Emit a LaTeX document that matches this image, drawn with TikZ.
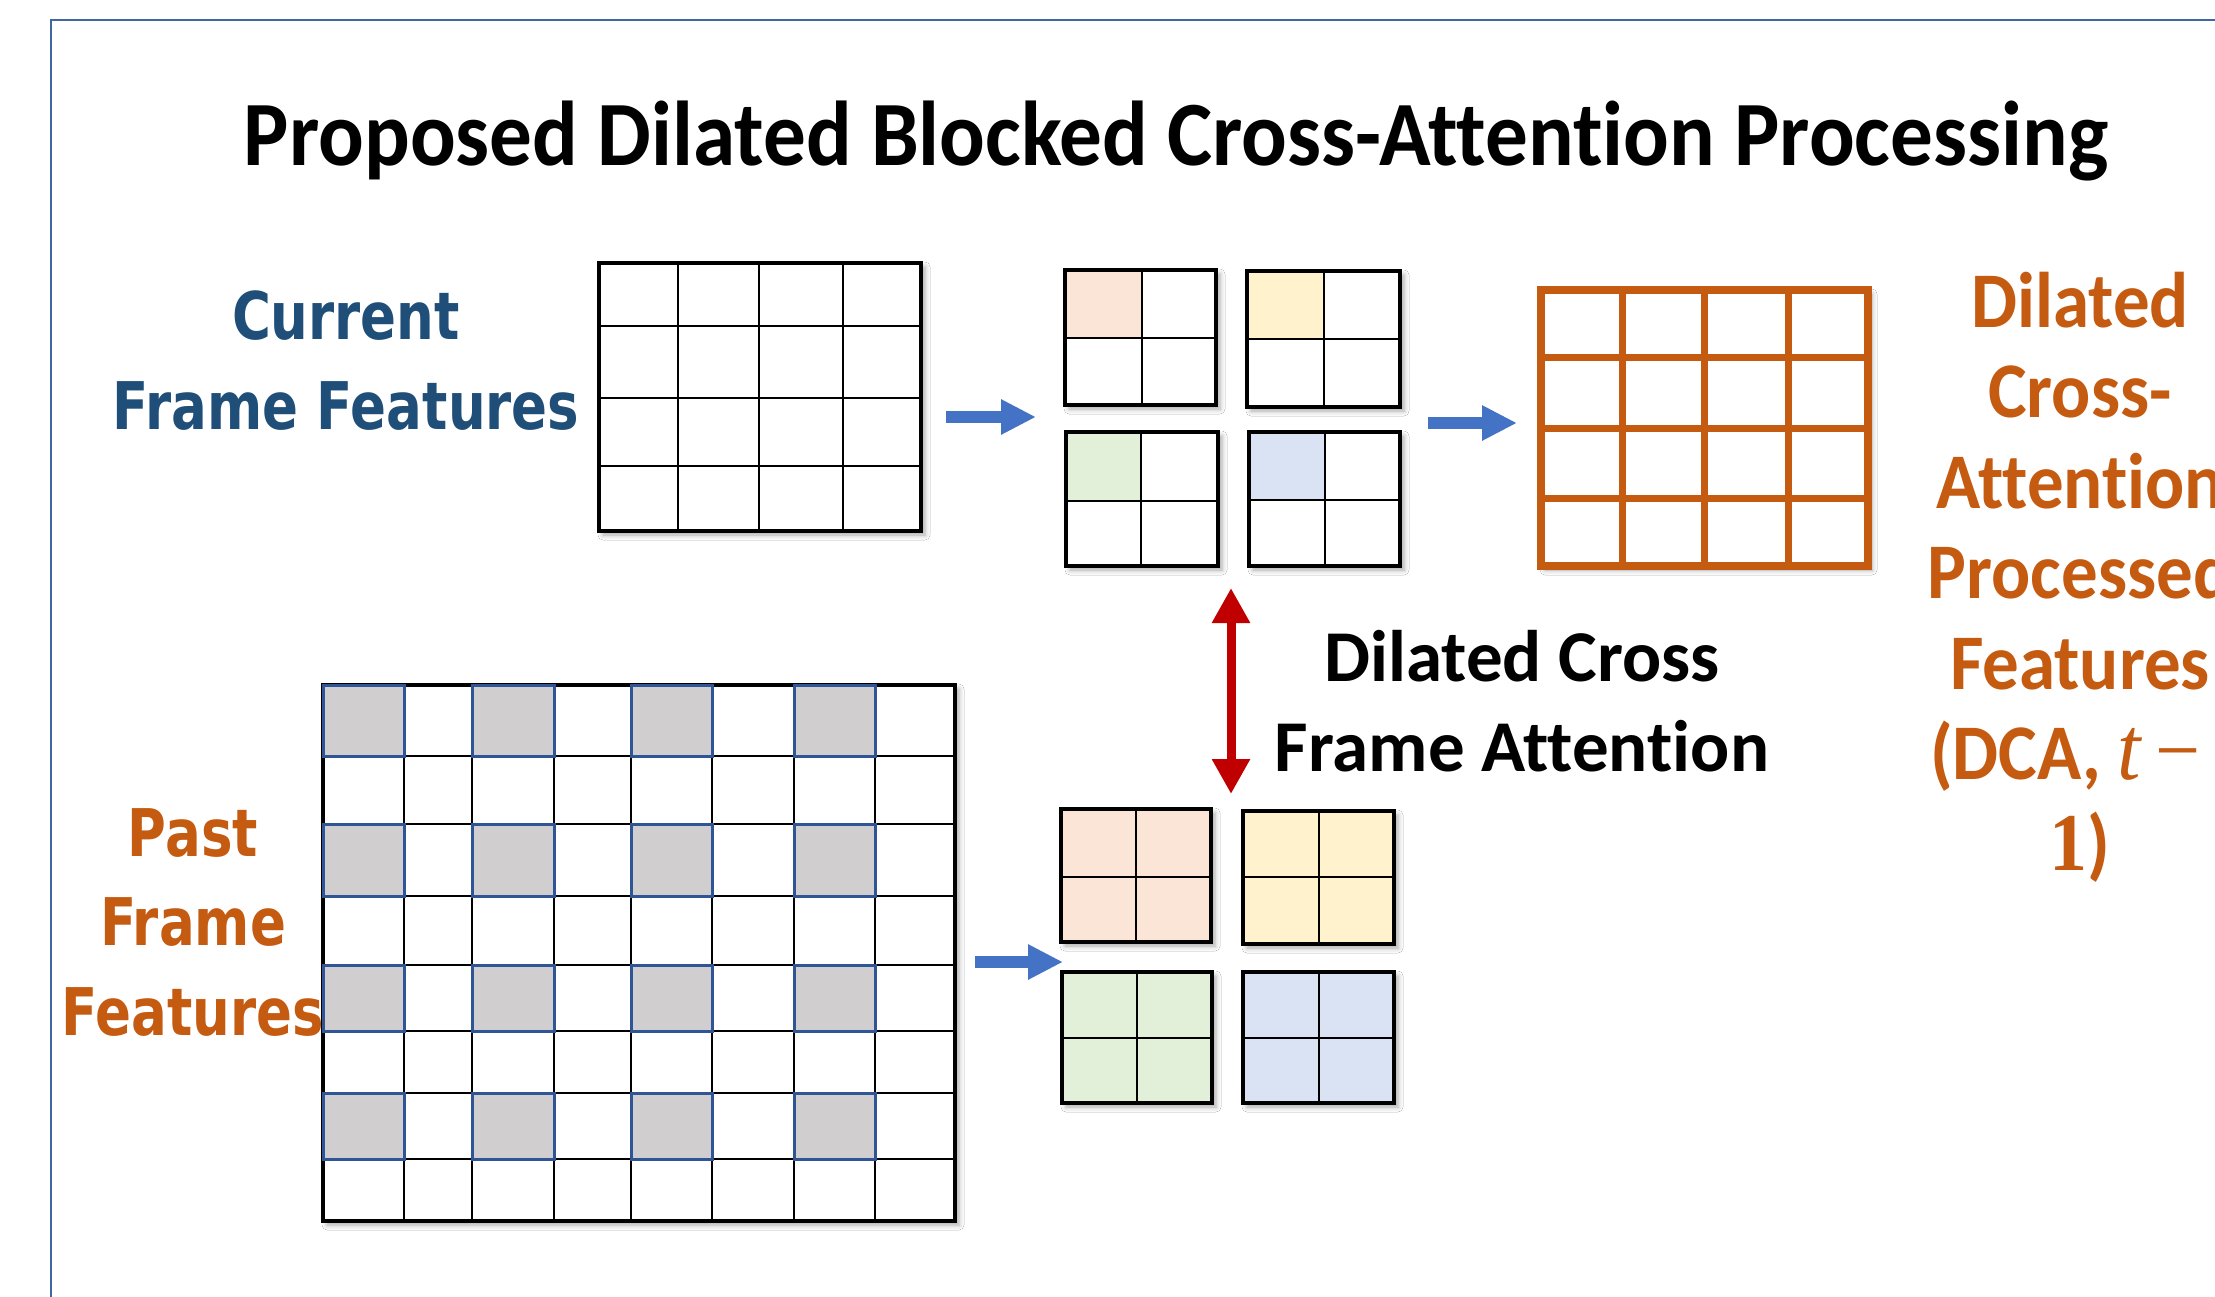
\documentclass[tikz,border=0pt]{standalone}
\usepackage{fontspec}
\usepackage{graphicx}
\setmainfont{Carlito}[Ligatures=NoCommon]
\newfontfamily\vfont{DejaVu Sans}
\newfontfamily\tfont{Liberation Serif}
\usetikzlibrary{arrows.meta,shadows.blur}
\definecolor{frameblue}{HTML}{4167A0}
\definecolor{txtblue}{HTML}{1F4E79}
\definecolor{txtorange}{HTML}{C55A11}
\definecolor{arrblue}{HTML}{4472C4}
\definecolor{arrred}{HTML}{C00000}
\definecolor{cellgray}{HTML}{D0CECE}
\definecolor{cellblue}{HTML}{2F5597}
\definecolor{cpeach}{HTML}{FBE5D6}
\definecolor{cyellow}{HTML}{FFF2CC}
\definecolor{cgreen}{HTML}{E2F0D9}
\definecolor{clblue}{HTML}{DAE3F3}
\newcommand\vst[2]{\scalebox{1}[#1]{#2}}
\newcommand\cfont{\fontsize{36.5pt}{44pt}\selectfont\bfseries}
\newcommand\vbfont{\vfont\fontsize{26.5pt}{32pt}\selectfont\bfseries}
\newcommand\boxnode[6]{%
  \node[#6, inner sep=0pt, outer sep=0pt, minimum width={(#4-#2)*0.5pt},
        minimum height={(#5-#3)*0.5pt}, anchor=center] (#1) at ({(#2+#4)/2},{(#3+#5)/2}) {};}
\newcommand\topgrid[8]{%
  \boxnode{#1}{#2}{#3}{#4}{#5}{gridbg}
  \fill[#8] (#2,#3) rectangle (#6,#7);
  \draw[thinl] (#6,#3) -- (#6,#5) (#2,#7) -- (#4,#7);
  \draw[thickl] (#1.north west) rectangle (#1.south east);}
\newcommand\botgrid[8]{%
  \boxnode{#1}{#2}{#3}{#4}{#5}{gridbg, fill=#8}
  \draw[thinl] (#6,#3) -- (#6,#5) (#2,#7) -- (#4,#7);
  \draw[thickl] (#1.north west) rectangle (#1.south east);}
\begin{document}
\begin{tikzpicture}[x=0.5pt,y=-0.5pt,
  lbl/.style={anchor=base, inner sep=0pt, outer sep=0pt},
  gridbg/.style={fill=white, blur shadow={shadow xshift=2pt, shadow yshift=-2pt, shadow blur radius=2.5pt, shadow opacity=35}},
  thinl/.style={draw=black, line width=1.1pt},
  thickl/.style={draw=black, line width=1.7pt},
  orl/.style={draw=txtorange, line width=3.5pt},
  barrow/.style={draw=arrblue, line width=6pt, -{Triangle[length=17.5pt,width=16.5pt]}},
  rarrow/.style={draw=arrred, line width=4.5pt, {Triangle[length=17.5pt,width=18pt]}-{Triangle[length=17.5pt,width=18pt]}}]
\useasboundingbox (0,0) rectangle (2215,1296);
\clip (0,0) rectangle (2215,1296);
\fill[white] (0,0) rectangle (2215,1296);
\draw[frameblue, line width=1.2pt] (51,20) rectangle (2400,1500);

% title
\node[lbl] (title) at (1176,165) {\vst{1.08}{\fontsize{42.6pt}{50pt}\selectfont\bfseries Proposed Dilated Blocked Cross-Attention Processing}};

% current frame label
\node[lbl, text=txtblue] (cur1) at (346,339) {\vst{1.24}{\vbfont Current}};
\node[lbl, text=txtblue] (cur2) at (346,429) {\vst{1.24}{\vbfont Frame Features}};

% past frame label
\node[lbl, text=txtorange] (past1) at (193,856) {\vst{1.24}{\vbfont Past}};
\node[lbl, text=txtorange] (past2) at (193,945) {\vst{1.24}{\vbfont Frame}};
\node[lbl, text=txtorange] (past3) at (193,1035) {\vst{1.24}{\vbfont Features}};

% current grid
\boxnode{cur}{599}{263}{921}{531}{gridbg}
\foreach \x in {678,759,843} \draw[thinl] (\x,263) -- (\x,531);
\foreach \y in {326,398,466} \draw[thinl] (599,\y) -- (921,\y);
\draw[thickl] (cur.north west) rectangle (cur.south east);

% top small grids
\topgrid{ta}{1065}{270}{1216}{405}{1142}{338}{cpeach}
\topgrid{tb}{1247}{271}{1400}{407}{1324}{339}{cyellow}
\topgrid{tc}{1066}{432}{1218}{566}{1141}{501}{cgreen}
\topgrid{td}{1249}{432}{1400}{566}{1325}{500}{clblue}

% bottom small grids
\botgrid{ba}{1061}{809}{1211}{942}{1136}{877}{cpeach}
\botgrid{bb}{1243}{811}{1394}{944}{1319}{877}{cyellow}
\botgrid{bc}{1062}{972}{1212}{1103}{1137}{1038}{cgreen}
\botgrid{bd}{1243}{972}{1394}{1103}{1319}{1038}{clblue}

% past grid
\boxnode{past}{323}{685}{955}{1221}{gridbg}
\foreach \x in {404,472,554,631,712,794,875} \draw[thinl] (\x,685) -- (\x,1221);
\foreach \y in {756,824,896,965,1031,1093,1159} \draw[thinl] (323,\y) -- (955,\y);
\draw[thickl] (past.north west) rectangle (past.south east);
\foreach \ca/\cb in {323/404,472/554,631/712,794/875}
  \foreach \ra/\rb in {685/756,824/896,965/1031,1093/1159}
    \draw[draw=cellblue, fill=cellgray, line width=1.5pt] (\ca,\ra) rectangle (\cb,\rb);

% output grid
\boxnode{outg}{1541}{290}{1868}{566}{gridbg}
\foreach \x in {1622,1704,1788} \draw[orl] (\x,290) -- (\x,566);
\foreach \y in {357,428,498} \draw[orl] (1541,\y) -- (1868,\y);
\draw[orl, line width=4pt] (outg.north west) rectangle (outg.south east);

% arrows
\coordinate (a1s) at (946,417); \coordinate (a1e) at (1036,417);
\coordinate (a2s) at (1428,423); \coordinate (a2e) at (1517,423);
\coordinate (a3s) at (975,962); \coordinate (a3e) at (1063,962);
\coordinate (rs) at (1231,588); \coordinate (re) at (1231,794);
\draw[barrow] (a1s) -- (a1e);
\draw[barrow] (a2s) -- (a2e);
\draw[barrow] (a3s) -- (a3e);
\draw[rarrow] (rs) -- (re);

% dilated cross frame attention label
\node[lbl] (dca1) at (1522,681) {\cfont Dilated Cross};
\node[lbl] (dca2) at (1522,771) {\cfont Frame Attention};

% right label
\node[lbl, text=txtorange] (r1) at (2080,327) {\vst{1.08}{\cfont Dilated}};
\node[lbl, text=txtorange] (r2) at (2080,417.5) {\vst{1.08}{\cfont Cross-}};
\node[lbl, text=txtorange] (r3) at (2080,508) {\vst{1.08}{\cfont Attention}};
\node[lbl, text=txtorange] (r4) at (2080,598.5) {\vst{1.08}{\cfont Processed}};
\node[lbl, text=txtorange] (r5) at (2080,689) {\vst{1.08}{\cfont Features}};
\node[lbl, text=txtorange, anchor=base west] (r6) at (1930,779.5) {\vst{1.08}{\cfont (DCA, {\tfont\mdseries\itshape\fontsize{42pt}{44pt}\selectfont t}\hspace{7pt}{\tfont\mdseries\fontsize{40pt}{44pt}\selectfont −}}};
\node[lbl, text=txtorange] (r7) at (2080,870) {\vst{1.08}{\cfont {\tfont\fontsize{38pt}{44pt}\selectfont 1})}};
\end{tikzpicture}
\end{document}
